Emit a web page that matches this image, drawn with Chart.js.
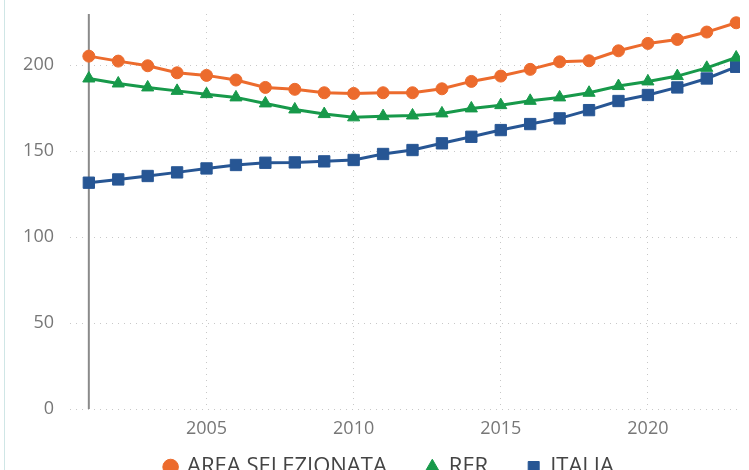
<!DOCTYPE html>
<html>
<head>
<meta charset="utf-8">
<script src="https://cdn.jsdelivr.net/npm/chart.js@4.4.0/dist/chart.umd.min.js"></script>
<style>
  body { margin: 0; overflow: hidden; background: #fff; }
  #wrap { position: relative; width: 749px; height: 470px; overflow: hidden; }
  #edge { position: absolute; left: 4px; top: 0; width: 1px; height: 470px; background: #cfe6e6; }
</style>
</head>
<body>
<div id="wrap">
  <div id="edge"></div>
  <canvas id="myChart" width="749" height="495"></canvas>
</div>
<script>
"use strict";
// years on the x axis
const Years = [2001, 2002, 2003, 2004, 2005, 2006, 2007, 2008, 2009, 2010, 2011, 2012,
    2013, 2014, 2015, 2016, 2017, 2018, 2019, 2020, 2021, 2022, 2023];
// values
const AreaSel = [205.2, 202.3, 199.6, 195.5, 194.0, 191.3, 187.0, 185.9, 183.9, 183.5, 183.9, 183.9,
    186.2, 190.5, 193.6, 197.5, 201.9, 202.5, 208.3, 212.6, 214.9, 219.2, 224.6];
const Rer = [192.2, 189.3, 187.0, 185.0, 183.1, 181.2, 177.7, 174.2, 171.5, 169.6, 170.3, 170.7,
    171.9, 174.8, 176.7, 179.2, 181.2, 183.9, 187.8, 190.5, 193.6, 198.4, 204.4];
const Italia = [131.6, 133.5, 135.5, 137.6, 139.9, 141.9, 143.2, 143.4, 144.0, 144.8, 148.3, 150.6,
    154.5, 158.3, 162.2, 165.7, 169.0, 173.8, 179.1, 182.6, 187.0, 192.2, 199.0];
const XTicks = [2005, 2010, 2015, 2020];
const YTicks = [0, 50, 100, 150, 200];

function toPoints(arr) {
    return Years.map((y, i) => ({ x: y, y: arr[i] }));
}

// gray line on the first year, under the markers
const firstYearLine = {
    id: 'firstYearLine',
    beforeDatasetsDraw(chart) {
        const ctx = chart.ctx;
        const x = chart.scales.x.getPixelForValue(Years[0]);
        ctx.save();
        ctx.strokeStyle = '#8a8a8a';
        ctx.lineWidth = 2;
        ctx.beginPath();
        ctx.moveTo(x, chart.chartArea.top);
        ctx.lineTo(x, chart.chartArea.bottom);
        ctx.stroke();
        ctx.restore();
    }
};

// move the legend box after layout (legend clips to its own box)
const legendPlace = {
    id: 'legendPlace',
    afterLayout(chart) {
        const l = chart.legend;
        l.top = 416;
        l.bottom = 495;
        l.left = 30;
        l.right = 749;
    }
};

const data = {
    datasets: [{
        label: 'AREA SELEZIONATA',
        data: toPoints(AreaSel),
        borderColor: '#EC6B2D',
        backgroundColor: '#EC6B2D',
        pointStyle: 'circle',
        pointRadius: 6,
        pointBorderWidth: 1,
        borderWidth: 3
    }, {
        label: 'RER',
        data: toPoints(Rer),
        borderColor: '#17994A',
        backgroundColor: '#17994A',
        pointStyle: 'triangle',
        pointRadius: 7,
        pointBorderWidth: 1,
        borderWidth: 3
    }, {
        label: 'ITALIA',
        data: toPoints(Italia),
        borderColor: '#275694',
        backgroundColor: '#275694',
        pointStyle: 'rect',
        pointRadius: 8,
        pointBorderWidth: 1,
        borderWidth: 3
    }]
};

const config = {
    type: 'line',
    data: data,
    options: {
        responsive: false,
        animation: false,
        layout: { padding: { top: 14, right: 0, left: 0, bottom: 0 } },
        plugins: {
            tooltip: { enabled: false },
            legend: {
                position: 'bottom',
                maxHeight: 50,
                labels: {
                    usePointStyle: true,
                    boxHeight: 11,
                    boxWidth: 11,
                    padding: 40,
                    color: '#444',
                    font: { family: 'Open Sans', size: 22 }
                }
            }
        },
        scales: {
            x: {
                type: 'linear',
                min: 2000.36,
                max: 2023.13,
                afterBuildTicks: s => { s.ticks = XTicks.map(v => ({ value: v })); },
                afterFit: s => { s.height = 36; s.paddingLeft = 0; s.paddingRight = 0; },
                border: { display: false, dash: [1, 5] },
                grid: { color: '#c8c8c8', drawTicks: false },
                ticks: {
                    padding: 9,
                    color: '#777',
                    font: { family: 'Open Sans', size: 18 },
                    callback: v => String(v)
                }
            },
            y: {
                min: 0,
                max: 229.7,
                afterBuildTicks: s => { s.ticks = YTicks.map(v => ({ value: v })); },
                afterFit: s => { s.width = 70; s.paddingTop = 0; s.paddingBottom = 0; },
                border: { display: false, dash: [1, 5] },
                grid: { color: '#c8c8c8', drawTicks: false },
                ticks: {
                    padding: 16,
                    color: '#777',
                    font: { family: 'Open Sans', size: 18 }
                }
            }
        }
    },
    plugins: [firstYearLine, legendPlace]
};

const myChart = new Chart(document.getElementById('myChart'), config);
</script>
</body>
</html>
